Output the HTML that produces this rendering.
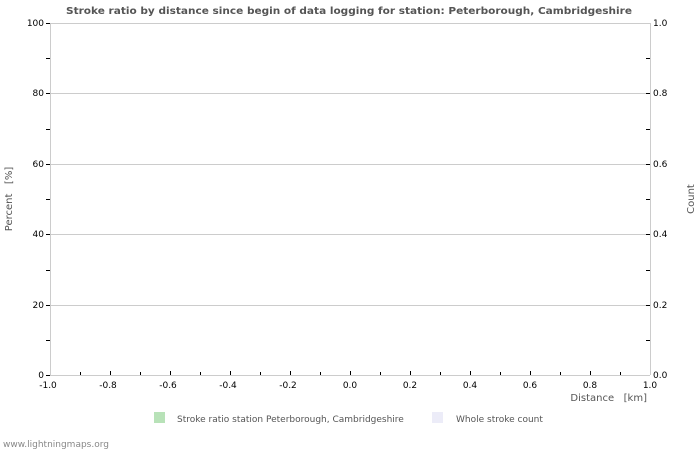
<!DOCTYPE html><html><head><style>body{margin:0;background:#fff}</style></head><body>
<svg width="700" height="450" xmlns="http://www.w3.org/2000/svg" font-family="'DejaVu Sans','Liberation Sans',sans-serif" font-size="9">
<rect width="700" height="450" fill="#fff"/>
<text x="349" y="14" text-anchor="middle" font-weight="bold" font-size="10" fill="#555" textLength="566" lengthAdjust="spacingAndGlyphs">Stroke ratio by distance since begin of data logging for station: Peterborough, Cambridgeshire</text>
<g stroke="#ccc" stroke-width="1">
<line x1="50" y1="23.5" x2="650" y2="23.5"/><line x1="50" y1="93.5" x2="650" y2="93.5"/><line x1="50" y1="164.5" x2="650" y2="164.5"/><line x1="50" y1="234.5" x2="650" y2="234.5"/><line x1="50" y1="305.5" x2="650" y2="305.5"/>
<line x1="50.5" y1="23" x2="50.5" y2="375"/><line x1="650.5" y1="23" x2="650.5" y2="375"/><line x1="50" y1="375.5" x2="650" y2="375.5"/>
</g>
<g stroke="#000" stroke-width="1">
<path d="M46 23.5h4M46 58.5h4M46 93.5h4M46 129.5h4M46 164.5h4M46 199.5h4M46 234.5h4M46 270.5h4M46 305.5h4M46 340.5h4M46 375.5h4"/>
<path d="M646 58.5h4M646 93.5h4M646 129.5h4M646 164.5h4M646 199.5h4M646 234.5h4M646 270.5h4M646 305.5h4M646 340.5h4"/>
<path d="M80.5 372v3M110.5 371v4M140.5 372v3M170.5 371v4M200.5 372v3M230.5 371v4M260.5 372v3M290.5 371v4M320.5 372v3M350.5 371v4M380.5 372v3M410.5 371v4M440.5 372v3M470.5 371v4M500.5 372v3M530.5 371v4M560.5 372v3M590.5 371v4M620.5 372v3"/>
</g>
<g fill="#000" text-anchor="end">
<text x="44" y="26">100</text><text x="44" y="96">80</text><text x="44" y="167">60</text><text x="44" y="237">40</text><text x="44" y="308">20</text><text x="44" y="378">0</text>
</g>
<g fill="#000">
<text x="653" y="26">1.0</text><text x="653" y="96">0.8</text><text x="653" y="167">0.6</text><text x="653" y="237">0.4</text><text x="653" y="308">0.2</text><text x="653" y="378">0.0</text>
</g>
<g fill="#000" text-anchor="middle">
<text x="48" y="388">-1.0</text><text x="108" y="388">-0.8</text><text x="168" y="388">-0.6</text><text x="228" y="388">-0.4</text><text x="288" y="388">-0.2</text><text x="350" y="388">0.0</text><text x="410" y="388">0.2</text><text x="470" y="388">0.4</text><text x="530" y="388">0.6</text><text x="590" y="388">0.8</text><text x="650" y="388">1.0</text>
</g>
<text x="647" y="401" text-anchor="end" fill="#555" font-size="10">Distance&#160;&#160;&#160;[km]</text>
<text transform="translate(12,199) rotate(-90)" text-anchor="middle" fill="#555" font-size="10">Percent&#160;&#160;&#160;[%]</text>
<text transform="translate(694,199) rotate(-90)" text-anchor="middle" fill="#555" font-size="10">Count</text>
<rect x="154" y="412" width="11" height="11" fill="#b8e2b8"/>
<text x="177" y="422" fill="#555">Stroke ratio station Peterborough, Cambridgeshire</text>
<rect x="432" y="412" width="11" height="11" fill="#ececf8"/>
<text x="456" y="422" fill="#555">Whole stroke count</text>
<text x="3" y="447" fill="#888">www.lightningmaps.org</text>
</svg></body></html>
